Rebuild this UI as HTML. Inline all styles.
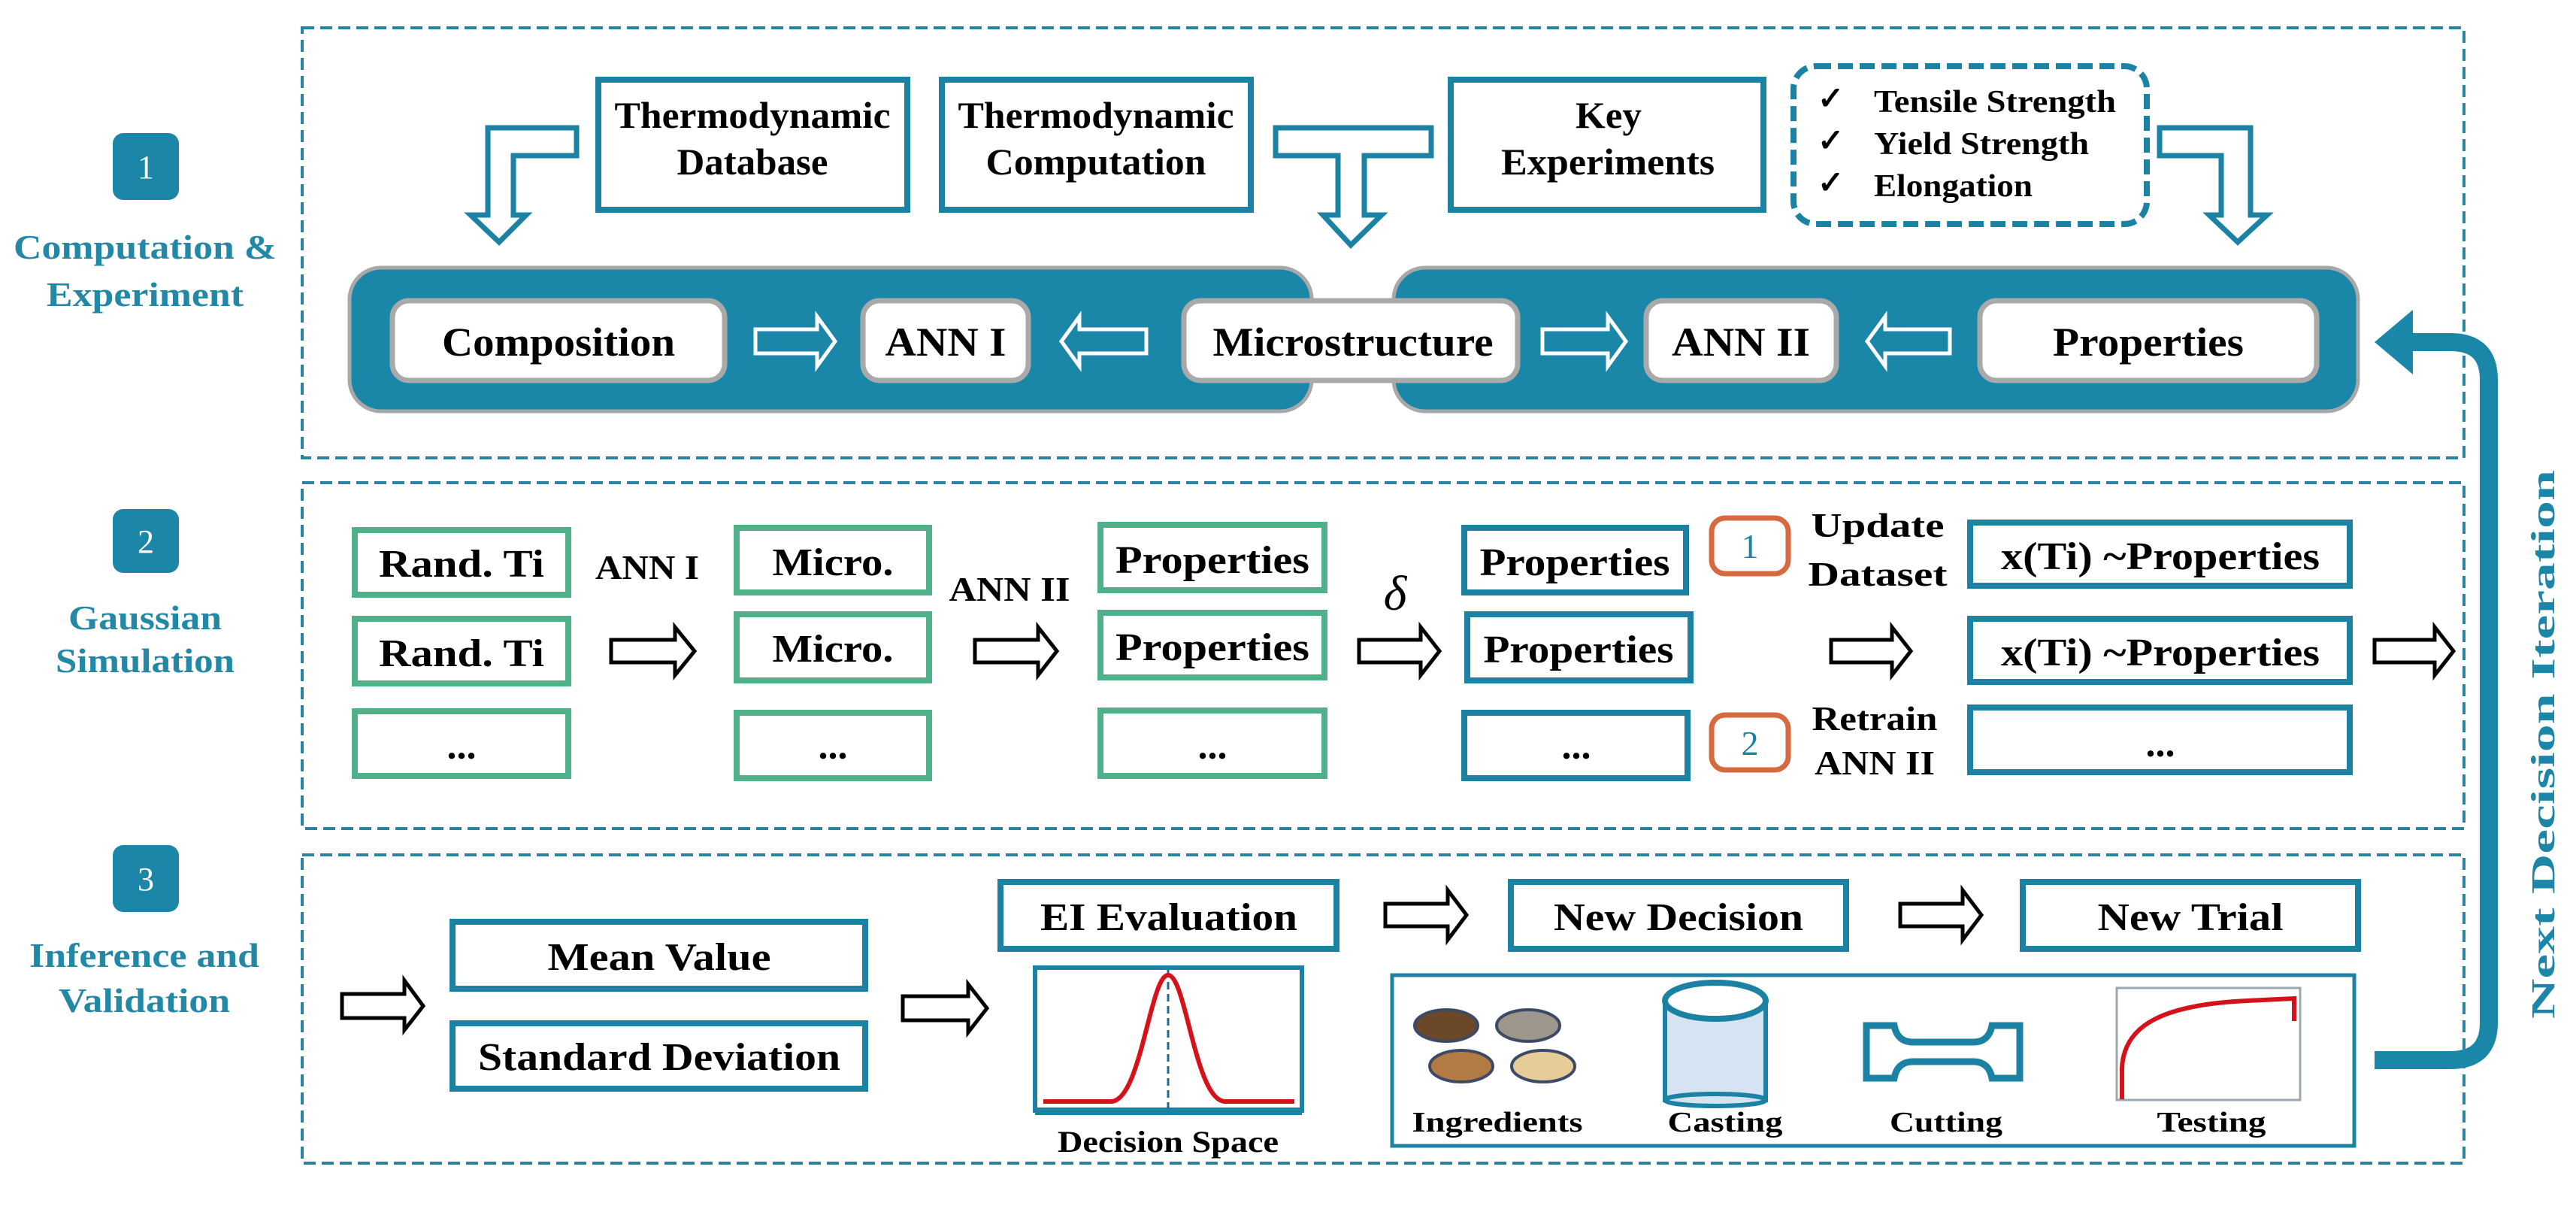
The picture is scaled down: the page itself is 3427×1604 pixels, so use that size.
<!DOCTYPE html>
<html><head><meta charset="utf-8"><style>
html,body{margin:0;padding:0;background:#fff;}
svg{display:block;}
text{font-family:"Liberation Serif",serif;font-weight:bold;}
</style></head><body>
<svg width="3427" height="1604" viewBox="0 0 3427 1604" xmlns="http://www.w3.org/2000/svg">
<rect width="3427" height="1604" fill="#fff"/>
<!-- section dashed boxes -->
<g fill="none" stroke="#2a83a0" stroke-width="4" stroke-dasharray="16 8">
<rect x="402" y="37" width="2876" height="572"/>
<rect x="402" y="642" width="2876" height="460"/>
<rect x="402" y="1137" width="2876" height="410"/>
</g>
<!-- left labels -->
<g fill="#1b86a8">
<rect x="150" y="177" width="88" height="89" rx="14"/>
<rect x="150" y="677" width="88" height="85" rx="14"/>
<rect x="150" y="1124" width="88" height="89" rx="14"/>
</g>
<g fill="#fff" font-size="44" text-anchor="middle" style="font-weight:normal">
<text x="194" y="237" style="font-weight:normal">1</text>
<text x="194" y="735" style="font-weight:normal">2</text>
<text x="194" y="1184" style="font-weight:normal">3</text>
</g>
<g fill="#2387a6" font-size="46" text-anchor="middle" lengthAdjust="spacingAndGlyphs">
<text x="193" y="344" textLength="350" lengthAdjust="spacingAndGlyphs">Computation &amp;</text>
<text x="193" y="407" textLength="262" lengthAdjust="spacingAndGlyphs">Experiment</text>
<text x="193" y="837" textLength="204" lengthAdjust="spacingAndGlyphs">Gaussian</text>
<text x="193" y="894" textLength="238" lengthAdjust="spacingAndGlyphs">Simulation</text>
<text x="192" y="1286" textLength="306" lengthAdjust="spacingAndGlyphs">Inference and</text>
<text x="192" y="1346" textLength="228" lengthAdjust="spacingAndGlyphs">Validation</text>
</g>

<!-- SECTION 1 -->
<g fill="#fff" stroke="#1b82a3" stroke-width="8">
<rect x="796" y="106" width="411" height="173"/>
<rect x="1253" y="106" width="411" height="173"/>
<rect x="1930" y="106" width="416" height="173"/>
</g>
<rect x="2386" y="88" width="470" height="210" rx="30" fill="none" stroke="#1b82a3" stroke-width="8" stroke-dasharray="20 9"/>
<g fill="#fff" stroke="#1b82a3" stroke-width="7" stroke-linejoin="miter">
<polygon points="767,170 649,170 649,286 626,286 664,322 700,286 683,286 683,207 767,207"/>
<polygon points="1697,170 1904,170 1904,207 1815,207 1815,286 1838,286 1797,326 1760,286 1780,286 1780,207 1697,207"/>
<polygon points="2873,170 2994,170 2994,286 3016,286 2977,322 2939,286 2955,286 2955,207 2873,207"/>
</g>
<g fill="#000" font-size="50" text-anchor="middle">
<text x="1001" y="170" textLength="367" lengthAdjust="spacingAndGlyphs">Thermodynamic</text>
<text x="1001" y="232" textLength="201" lengthAdjust="spacingAndGlyphs">Database</text>
<text x="1458" y="170" textLength="367" lengthAdjust="spacingAndGlyphs">Thermodynamic</text>
<text x="1458" y="232" textLength="293" lengthAdjust="spacingAndGlyphs">Computation</text>
<text x="2140" y="170" textLength="88" lengthAdjust="spacingAndGlyphs">Key</text>
<text x="2139" y="232" textLength="284" lengthAdjust="spacingAndGlyphs">Experiments</text>
</g>
<g fill="#000" font-size="42">
<text x="2418" y="145">✓</text><text x="2418" y="201">✓</text><text x="2418" y="257">✓</text>
<text x="2493" y="149" textLength="322" lengthAdjust="spacingAndGlyphs">Tensile Strength</text>
<text x="2493" y="205" textLength="286" lengthAdjust="spacingAndGlyphs">Yield Strength</text>
<text x="2493" y="261" textLength="211" lengthAdjust="spacingAndGlyphs">Elongation</text>
</g>
<!-- big bars -->
<g fill="#1a86a8" stroke="#a8a8a8" stroke-width="5">
<rect x="465" y="356" width="1280" height="191" rx="42"/>
<rect x="1854" y="356" width="1283" height="191" rx="42"/>
</g>
<g fill="#fff" stroke="#a9a9a9" stroke-width="7">
<rect x="522" y="400" width="442" height="106" rx="22"/>
<rect x="1148" y="400" width="220" height="106" rx="22"/>
<rect x="1575" y="400" width="444" height="106" rx="22"/>
<rect x="2190" y="400" width="253" height="106" rx="22"/>
<rect x="2634" y="400" width="448" height="106" rx="22"/>
</g>
<g fill="#1a86a8" stroke="#fff" stroke-width="5">
<polygon points="1005,438 1087,438 1087,421 1111,454 1087,487 1087,470 1005,470"/>
<polygon points="1525,438 1436,438 1436,421 1412,454 1436,487 1436,470 1525,470"/>
<polygon points="2052,438 2139,438 2139,421 2163,454 2139,487 2139,470 2052,470"/>
<polygon points="2594,438 2508,438 2508,421 2484,454 2508,487 2508,470 2594,470"/>
</g>
<g fill="#000" font-size="54" text-anchor="middle">
<text x="743" y="473" textLength="310" lengthAdjust="spacingAndGlyphs">Composition</text>
<text x="1258" y="473" textLength="161" lengthAdjust="spacingAndGlyphs">ANN I</text>
<text x="1800" y="473" textLength="373" lengthAdjust="spacingAndGlyphs">Microstructure</text>
<text x="2316" y="473" textLength="184" lengthAdjust="spacingAndGlyphs">ANN II</text>
<text x="2858" y="473" textLength="254" lengthAdjust="spacingAndGlyphs">Properties</text>
</g>

<!-- SECTION 2 -->
<g fill="#fff" stroke="#4fb08a" stroke-width="8">
<rect x="472" y="705" width="284" height="86"/>
<rect x="472" y="823" width="284" height="86"/>
<rect x="472" y="946" width="284" height="86"/>
<rect x="980" y="702" width="256" height="86"/>
<rect x="980" y="817" width="256" height="88"/>
<rect x="980" y="948" width="256" height="87"/>
<rect x="1464" y="698" width="298" height="87"/>
<rect x="1464" y="815" width="298" height="86"/>
<rect x="1464" y="945" width="298" height="87"/>
</g>
<g fill="#fff" stroke="#1b82a3" stroke-width="8">
<rect x="1948" y="702" width="295" height="86"/>
<rect x="1952" y="817" width="297" height="88"/>
<rect x="1948" y="948" width="297" height="87"/>
<rect x="2621" y="695" width="505" height="84"/>
<rect x="2621" y="823" width="505" height="84"/>
<rect x="2621" y="941" width="505" height="86"/>
</g>
<g fill="#fff" stroke="#d6693f" stroke-width="7">
<rect x="2277" y="689" width="102" height="74" rx="18"/>
<rect x="2277" y="951" width="102" height="73" rx="18"/>
</g>
<g fill="#1b82a3" font-size="46" text-anchor="middle" style="font-weight:normal">
<text x="2328" y="742" style="font-weight:normal">1</text>
<text x="2328" y="1004" style="font-weight:normal">2</text>
</g>
<g fill="#fff" stroke="#000" stroke-width="5">
<polygon points="813,851 898,851 898,834 924,866 898,898 898,881 813,881"/>
<polygon points="1297,851 1381,851 1381,834 1406,866 1381,898 1381,881 1297,881"/>
<polygon points="1808,851 1890,851 1890,834 1915,866 1890,898 1890,881 1808,881"/>
<polygon points="2436,851 2517,851 2517,834 2542,866 2517,898 2517,881 2436,881"/>
<polygon points="3159,851 3239,851 3239,834 3264,866 3239,898 3239,881 3159,881"/>
</g>
<g fill="#000" font-size="52" text-anchor="middle">
<text x="614" y="767" textLength="220" lengthAdjust="spacingAndGlyphs">Rand. Ti</text>
<text x="614" y="886" textLength="220" lengthAdjust="spacingAndGlyphs">Rand. Ti</text>
<text x="614" y="1009">...</text>
<text x="1108" y="765" textLength="161" lengthAdjust="spacingAndGlyphs">Micro.</text>
<text x="1108" y="880" textLength="161" lengthAdjust="spacingAndGlyphs">Micro.</text>
<text x="1108" y="1009">...</text>
<text x="1613" y="762" textLength="258" lengthAdjust="spacingAndGlyphs">Properties</text>
<text x="1613" y="878" textLength="258" lengthAdjust="spacingAndGlyphs">Properties</text>
<text x="1613" y="1009">...</text>
<text x="2095" y="765" textLength="253" lengthAdjust="spacingAndGlyphs">Properties</text>
<text x="2100" y="881" textLength="253" lengthAdjust="spacingAndGlyphs">Properties</text>
<text x="2097" y="1009">...</text>
<text x="2874" y="757" textLength="424" lengthAdjust="spacingAndGlyphs">x(Ti) ~Properties</text>
<text x="2874" y="885" textLength="424" lengthAdjust="spacingAndGlyphs">x(Ti) ~Properties</text>
<text x="2874" y="1006">...</text>
</g>
<g fill="#000" font-size="46" text-anchor="middle">
<text x="861" y="770" textLength="138" lengthAdjust="spacingAndGlyphs">ANN I</text>
<text x="1343" y="799" textLength="161" lengthAdjust="spacingAndGlyphs">ANN II</text>
<text x="2498" y="714" textLength="177" lengthAdjust="spacingAndGlyphs">Update</text>
<text x="2498" y="779" textLength="185" lengthAdjust="spacingAndGlyphs">Dataset</text>
<text x="2494" y="971" textLength="167" lengthAdjust="spacingAndGlyphs">Retrain</text>
<text x="2494" y="1030" textLength="160" lengthAdjust="spacingAndGlyphs">ANN II</text>
</g>
<text x="1856" y="811" font-size="66" text-anchor="middle" style="font-style:italic;font-weight:normal">δ</text>

<!-- SECTION 3 -->
<g fill="#fff" stroke="#1b82a3" stroke-width="8">
<rect x="602" y="1226" width="549" height="89"/>
<rect x="602" y="1361" width="549" height="87"/>
<rect x="1331" y="1173" width="447" height="89"/>
<rect x="2010" y="1173" width="446" height="89"/>
<rect x="2691" y="1173" width="446" height="89"/>
</g>
<g fill="#fff" stroke="#000" stroke-width="5">
<polygon points="455,1322 538,1322 538,1304 563,1338 538,1370 538,1354 455,1354"/>
<polygon points="1201,1325 1288,1325 1288,1309 1313,1341 1288,1373 1288,1357 1201,1357"/>
<polygon points="1843,1202 1926,1202 1926,1184 1951,1217 1926,1250 1926,1232 1843,1232"/>
<polygon points="2528,1202 2611,1202 2611,1184 2636,1217 2611,1250 2611,1232 2528,1232"/>
<polygon points="2121,1390 2150,1390 2150,1373 2175,1399 2150,1425 2150,1408 2121,1408"/>
<polygon points="2396,1390 2425,1390 2425,1373 2450,1399 2425,1425 2425,1408 2396,1408"/>
<polygon points="2724,1390 2754,1390 2754,1373 2779,1399 2754,1425 2754,1408 2724,1408"/>
</g>
<g fill="#000" font-size="52" text-anchor="middle">
<text x="877" y="1290" textLength="297" lengthAdjust="spacingAndGlyphs">Mean Value</text>
<text x="877" y="1423" textLength="482" lengthAdjust="spacingAndGlyphs">Standard Deviation</text>
<text x="1555" y="1237" textLength="342" lengthAdjust="spacingAndGlyphs">EI Evaluation</text>
<text x="2233" y="1237" textLength="332" lengthAdjust="spacingAndGlyphs">New Decision</text>
<text x="2914" y="1237" textLength="247" lengthAdjust="spacingAndGlyphs">New Trial</text>
</g>
<!-- decision space plot -->
<rect x="1377" y="1287" width="355" height="190" fill="#fff" stroke="#1b82a3" stroke-width="6"/>
<line x1="1377" y1="1478" x2="1732" y2="1478" stroke="#1b82a3" stroke-width="10"/>
<line x1="1554" y1="1290" x2="1554" y2="1475" stroke="#1b6f8c" stroke-width="3" stroke-dasharray="10 6"/>
<path d="M1388,1465 L1478,1465 C1518,1465 1530,1297 1554,1297 C1578,1297 1590,1465 1630,1465 L1722,1465" fill="none" stroke="#d3121a" stroke-width="6"/>
<text x="1554" y="1532" font-size="40" text-anchor="middle" textLength="294" lengthAdjust="spacingAndGlyphs">Decision Space</text>
<!-- process box -->
<rect x="1852" y="1297" width="1280" height="227" fill="#fff" stroke="#1b82a3" stroke-width="5"/>
<g stroke="#3c4a66" stroke-width="4">
<ellipse cx="1924" cy="1364" rx="42" ry="21" fill="#6b4828"/>
<ellipse cx="2033" cy="1364" rx="42" ry="21" fill="#9c968c"/>
<ellipse cx="1944" cy="1418" rx="42" ry="21" fill="#b37b44"/>
<ellipse cx="2053" cy="1418" rx="42" ry="21" fill="#e6cc98"/>
</g>
<rect x="2215" y="1331" width="134" height="132" fill="#d6e3f3" stroke="#1b82a3" stroke-width="6"/>
<ellipse cx="2282" cy="1463" rx="67" ry="8" fill="#d6e3f3" stroke="#1b82a3" stroke-width="6"/>
<ellipse cx="2282" cy="1331" rx="67" ry="24" fill="#fff" stroke="#1b82a3" stroke-width="8"/>
<path d="M2483,1364 L2520,1364 Q2524,1386 2545,1386 L2625,1386 Q2646,1386 2650,1364 L2687,1364 L2687,1434 L2650,1434 Q2646,1412 2625,1412 L2545,1412 Q2524,1412 2520,1434 L2483,1434 Z" fill="#fff" stroke="#1b82a3" stroke-width="9"/>
<rect x="2816" y="1314" width="244" height="149" fill="#fff" stroke="#9aa8b0" stroke-width="3"/>
<path d="M2823,1462 L2823,1420 C2826,1362 2880,1336 2990,1331 L3052,1328 L3052,1358" fill="none" stroke="#d3121a" stroke-width="6"/>
<g fill="#000" font-size="38" text-anchor="middle">
<text x="1992" y="1505" textLength="227" lengthAdjust="spacingAndGlyphs">Ingredients</text>
<text x="2295" y="1505" textLength="153" lengthAdjust="spacingAndGlyphs">Casting</text>
<text x="2589" y="1505" textLength="150" lengthAdjust="spacingAndGlyphs">Cutting</text>
<text x="2942" y="1505" textLength="145" lengthAdjust="spacingAndGlyphs">Testing</text>
</g>
<!-- feedback loop -->
<path d="M3159,1410 L3260,1410 Q3311,1410 3311,1360 L3311,505 Q3311,455 3260,455 L3195,455" fill="none" stroke="#1a86a8" stroke-width="24"/>
<polygon points="3159,455 3210,412 3210,498" fill="#1a86a8"/>
<text transform="translate(3398,990) rotate(-90)" x="0" y="0" font-size="44" fill="#1b86a8" text-anchor="middle" textLength="730" lengthAdjust="spacingAndGlyphs">Next Decision Iteration</text>
</svg>
</body></html>
